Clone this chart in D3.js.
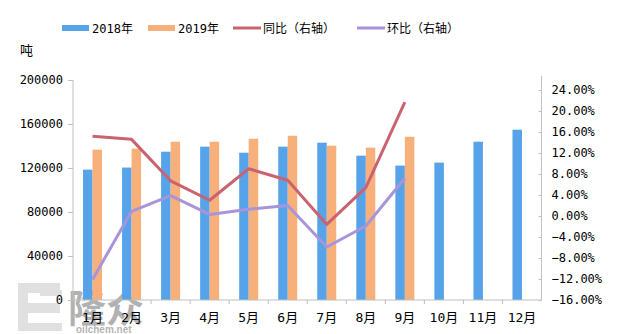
<!DOCTYPE html>
<html>
<head>
<meta charset="utf-8">
<script src="https://cdn.jsdelivr.net/npm/d3@7"></script>
<style>
  html, body { margin: 0; padding: 0; background: #fff; }
  svg { display: block; }
  text { font-family: "DejaVu Sans Mono", "Noto Sans CJK SC", sans-serif; fill: #000; }
</style>
</head>
<body>
<script>
// Monthly volume (tonnes) and growth rates (%)
const months = ["1月","2月","3月","4月","5月","6月","7月","8月","9月","10月","11月","12月"];
const values2018 = [118500, 120400, 134800, 139400, 133900, 139400, 143000, 131200, 122200, 124900, 143900, 154800];
const values2019 = [136700, 137600, 143900, 143900, 146600, 149300, 140300, 138500, 148400];
const yoy = [15.2, 14.6, 6.7, 3.0, 9.0, 6.8, -1.6, 5.4, 21.7];   // 同比
const mom = [-12.1, 0.9, 3.9, 0.3, 1.3, 2.0, -5.9, -1.9, 7.2];   // 环比
const leftTicks = [0, 40000, 80000, 120000, 160000, 200000];
const rightTicks = [-16, -12, -8, -4, 0, 4, 8, 12, 16, 20, 24];

const W = 623, H = 334;
const colors = { b2018: "#57a3ea", b2019: "#f8b07a", yoy: "#c8636f", mom: "#a894da", axis: "#bfbfbf" };

const svg = d3.select("body").append("svg").attr("width", W).attr("height", H);

const plot = { left: 73, right: 541.5, top: 80, bottom: 300 };

const x = d3.scaleBand().domain(months).range([plot.left, plot.right]).paddingInner(0).paddingOuter(0);
const yL = d3.scaleLinear().domain([0, 200000]).range([plot.bottom, plot.top]);
const yR = d3.scaleLinear().domain([-16, 24]).range([plot.bottom, 90]);
const barW = 9.5;

// Site watermark (drawn first so it sits behind the chart)
const wm = svg.append("g").attr("opacity", 0.3).attr("pointer-events", "none");
wm.append("path")
  .attr("d", "M18,283 H60 V293 H28 V303 H60 V313 H28 V323 H62 V331 H18 Z M40,290 H62 V296 H40 Z")
  .attr("fill", "#9a9a9a");
wm.append("text").attr("x", 68).attr("y", 322).attr("font-size", 38).attr("font-weight", "bold")
  .style("font-family", "'Noto Sans CJK SC', sans-serif").attr("fill", "#9a9a9a").text("隆众");
wm.append("text").attr("x", 76).attr("y", 333).attr("font-size", 10).attr("font-weight", "bold")
  .style("font-family", "Arial, 'Liberation Sans', sans-serif").attr("fill", "#8a8a8a").text("oilchem.net");

// Bars
svg.append("g").selectAll("rect").data(values2018).join("rect")
  .attr("x", (d, i) => x(months[i]) + x.bandwidth() / 2 - barW)
  .attr("y", d => yL(d))
  .attr("width", barW)
  .attr("height", d => yL(0) - yL(d))
  .attr("fill", colors.b2018);

svg.append("g").selectAll("rect").data(values2019).join("rect")
  .attr("x", (d, i) => x(months[i]) + x.bandwidth() / 2)
  .attr("y", d => yL(d))
  .attr("width", barW)
  .attr("height", d => yL(0) - yL(d))
  .attr("fill", colors.b2019);

// Left axis
const gL = svg.append("g").attr("transform", `translate(${plot.left},0)`)
  .call(d3.axisLeft(yL).tickValues(leftTicks).tickSize(5).tickPadding(5).tickFormat(d3.format("d")));
gL.select(".domain").attr("stroke", colors.axis).attr("d", `M0,${plot.top}V${plot.bottom}`);
gL.selectAll(".tick line").attr("stroke", colors.axis);
gL.selectAll(".tick text").attr("font-size", 12).style("font-family", "'DejaVu Sans Mono', monospace").attr("fill", "#000");

// Right axis
const gR = svg.append("g").attr("transform", `translate(${plot.right},0)`)
  .call(d3.axisRight(yR).tickValues(rightTicks).tickSize(-3).tickPadding(10)
    .tickFormat(d => d3.format(".2f")(d).replace("-", "−") + "%"));
gR.select(".domain").attr("stroke", colors.axis).attr("d", `M0,76V${plot.bottom}`);
gR.selectAll(".tick line").attr("stroke", colors.axis);
gR.selectAll(".tick text").attr("font-size", 12).style("font-family", "'DejaVu Sans Mono', monospace").attr("fill", "#000");

// Bottom axis
const gB = svg.append("g").attr("transform", `translate(0,${plot.bottom})`)
  .call(d3.axisBottom(x).tickSize(0).tickPadding(13));
gB.select(".domain").attr("stroke", colors.axis).attr("d", `M${plot.left},0H${plot.right}`);
gB.selectAll(".tick text").attr("font-size", 13).attr("fill", "#000")
  .style("font-family", "'DejaVu Sans Mono', 'Noto Sans CJK SC', sans-serif");
// category separators
gB.append("g").selectAll("line").data(months.slice(1)).join("line")
  .attr("x1", d => x(d)).attr("x2", d => x(d))
  .attr("y1", 0).attr("y2", 4)
  .attr("stroke", colors.axis);

// Lines
const line = d3.line()
  .x((d, i) => x(months[i]) + x.bandwidth() / 2)
  .y(d => yR(d));

svg.append("path").datum(yoy).attr("d", line)
  .attr("fill", "none").attr("stroke", colors.yoy).attr("stroke-width", 3).attr("stroke-linejoin", "round");
svg.append("path").datum(mom).attr("d", line)
  .attr("fill", "none").attr("stroke", colors.mom).attr("stroke-width", 3).attr("stroke-linejoin", "round");

// Unit label
svg.append("text").attr("x", 20).attr("y", 55).attr("font-size", 13)
  .style("font-family", "'Noto Sans CJK SC', sans-serif").text("吨");

// Legend
const legend = [
  { label: "2018年", type: "rect", color: colors.b2018, x: 62 },
  { label: "2019年", type: "rect", color: colors.b2019, x: 148 },
  { label: "同比（右轴）", type: "line", color: colors.yoy, x: 233 },
  { label: "环比（右轴）", type: "line", color: colors.mom, x: 357 }
];
const lg = svg.append("g");
legend.forEach(d => {
  if (d.type === "rect") {
    lg.append("rect").attr("x", d.x).attr("y", 25).attr("width", 27).attr("height", 6).attr("fill", d.color);
  } else {
    lg.append("line").attr("x1", d.x).attr("x2", d.x + 28).attr("y1", 28).attr("y2", 28)
      .attr("stroke", d.color).attr("stroke-width", 3);
  }
  lg.append("text").attr("x", d.x + 30).attr("y", 32.5).attr("font-size", 12)
    .style("font-family", "'DejaVu Sans Mono', 'Noto Sans CJK SC', sans-serif").text(d.label);
});
</script>
</body>
</html>
